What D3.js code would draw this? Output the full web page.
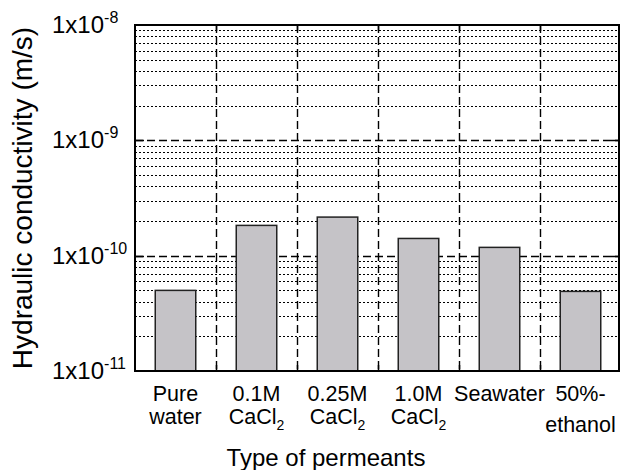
<!DOCTYPE html>
<html lang="en">
<head>
<meta charset="UTF-8">
<title>Hydraulic conductivity by permeant</title>
<script src="https://d3js.org/d3.v7.min.js"></script>
<style>
    body { margin: 0; background: #fff; }
    text { font-family: Arial, "Liberation Sans", Helvetica, sans-serif; fill: #000; }
</style>
</head>
<body>
<svg width="620" height="470"></svg>
<script>
// data
const categories = ['Pure water', '0.1M CaCl2', '0.25M CaCl2', '1.0M CaCl2', 'Seawater', '50%-ethanol'];
const labelTop = ['Pure', '0.1M', '0.25M', '1.0M', 'Seawater', '50%-'];
const labelBottom = ['water', 'CaCl2', 'CaCl2', 'CaCl2', '', 'ethanol'];
const conductivity = [5.0e-11, 1.83e-10, 2.16e-10, 1.41e-10, 1.18e-10, 4.9e-11];
const decadeTicks = [1e-11, 1e-10, 1e-9, 1e-8];
const tickExponents = ['-11', '-10', '-9', '-8'];

const plotLeft = 135, plotRight = 620, plotTop = 25, plotBottom = 371;
const svg = d3.select('svg');

const x = d3.scaleBand().domain(categories).range([plotLeft, 621]).padding(0);
const y = d3.scaleLog().domain([1e-11, 1e-8]).range([plotBottom, plotTop]);

// minor grid (2..9 in every decade)
const minor = [];
decadeTicks.slice(0, -1).forEach(d => { for (let k = 2; k <= 9; k++) minor.push(d * k); });

svg.append('g')
    .selectAll('line')
    .data(minor)
    .enter().append('line')
    .attr('x1', plotLeft).attr('x2', plotRight)
    .attr('y1', d => Math.round(y(d)) + 0.5).attr('y2', d => Math.round(y(d)) + 0.5)
    .attr('stroke', '#000').attr('stroke-width', 1.1)
    .attr('stroke-dasharray', '2,2');

// major grid
svg.append('g')
    .selectAll('line')
    .data(decadeTicks.slice(1, -1))
    .enter().append('line')
    .attr('x1', plotLeft).attr('x2', plotRight)
    .attr('y1', d => Math.round(y(d)) + 0.5).attr('y2', d => Math.round(y(d)) + 0.5)
    .attr('stroke', '#000').attr('stroke-width', 1.4)
    .attr('stroke-dasharray', '8,4');

// vertical category dividers
svg.append('g')
    .selectAll('line')
    .data(categories.slice(1))
    .enter().append('line')
    .attr('x1', d => Math.round(x(d)) + 0.5).attr('x2', d => Math.round(x(d)) + 0.5)
    .attr('y1', plotTop).attr('y2', plotBottom)
    .attr('stroke', '#000').attr('stroke-width', 1.4)
    .attr('stroke-dasharray', '8,4');

// bars
const bw = x.bandwidth() * 0.5;
svg.append('g')
    .selectAll('rect')
    .data(categories)
    .enter().append('rect')
    .attr('x', d => x(d) + (x.bandwidth() - bw) / 2)
    .attr('y', (d, i) => y(conductivity[i]))
    .attr('width', bw)
    .attr('height', (d, i) => plotBottom - y(conductivity[i]))
    .attr('fill', '#c5c3c7')
    .attr('stroke', '#222')
    .attr('stroke-width', 1.5);

// ticks: solid stubs inside the frame
const ticks = svg.append('g').attr('stroke', '#000').attr('stroke-width', 1.5);
decadeTicks.slice(1, -1).forEach(d => {
    const yy = Math.round(y(d)) + 0.5;
    ticks.append('line').attr('x1', plotLeft).attr('x2', plotLeft + 9).attr('y1', yy).attr('y2', yy);
    ticks.append('line').attr('x1', plotRight - 9).attr('x2', plotRight).attr('y1', yy).attr('y2', yy);
});
categories.slice(1).forEach(d => {
    const xx = Math.round(x(d)) + 0.5;
    ticks.append('line').attr('x1', xx).attr('x2', xx).attr('y1', plotBottom).attr('y2', plotBottom - 6);
    ticks.append('line').attr('x1', xx).attr('x2', xx).attr('y1', plotTop).attr('y2', plotTop + 6);
});

// frame
svg.append('rect')
    .attr('x', plotLeft).attr('y', plotTop)
    .attr('width', plotRight - 1 - plotLeft).attr('height', plotBottom - plotTop)
    .attr('fill', 'none').attr('stroke', '#000').attr('stroke-width', 2);

// y tick labels
const yl = svg.append('g')
    .selectAll('text')
    .data(decadeTicks)
    .enter().append('text')
    .attr('x', 52)
    .attr('y', d => y(d) + 8)
    .style('font-size', '24px');
yl.append('tspan').text('1x10');
yl.append('tspan')
    .attr('dy', -10)
    .style('font-size', '16px')
    .text((d, i) => tickExponents[i]);

// category labels
function writeLine(sel, str) {
    if (str.endsWith('2') && str.startsWith('CaCl')) {
        sel.append('tspan').text(str.slice(0, -1));
        sel.append('tspan').attr('dy', 6).style('font-size', '14px').text('2');
    } else {
        sel.text(str);
    }
}
const cl = svg.append('g');
categories.forEach((c, i) => {
    const cx = x(c) + x.bandwidth() / 2;
    cl.append('text')
        .attr('x', cx).attr('y', 401)
        .attr('text-anchor', 'middle')
        .style('font-size', '21.5px')
        .text(labelTop[i]);
    if (labelBottom[i]) {
        const t = cl.append('text')
            .attr('x', cx)
            .attr('y', labelTop[i].endsWith('-') ? 432 : 424)
            .attr('text-anchor', 'middle')
            .style('font-size', '21.5px');
        writeLine(t, labelBottom[i]);
    }
});

// axis titles
svg.append('text')
    .attr('x', 326).attr('y', 466)
    .attr('text-anchor', 'middle')
    .style('font-size', '24px')
    .text('Type of permeants');

svg.append('text')
    .attr('transform', 'translate(32, 198) rotate(-90)')
    .attr('text-anchor', 'middle')
    .style('font-size', '28px')
    .text('Hydraulic conductivity (m/s)');
</script>
</body>
</html>
